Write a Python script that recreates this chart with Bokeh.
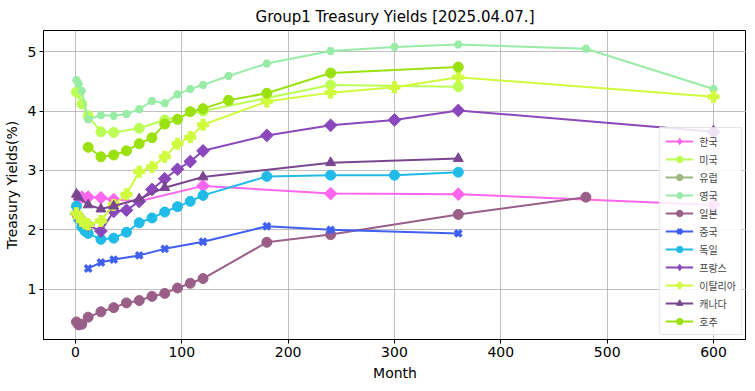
import numpy as np
from bokeh.plotting import figure
from bokeh.models import ColumnDataSource, Range1d, FixedTicker, Legend, LegendItem
from bokeh.embed import file_html
from bokeh.resources import INLINE

# ---- data (months to maturity, yields %) ----
names = ["한국", "미국", "유럽", "영국", "일본", "중국", "독일", "프랑스", "이탈리아", "캐나다", "호주"]

months_kr = [3, 6, 12, 24, 36, 60, 120, 240, 360, 600]
yld_kr = [2.55, 2.55, 2.55, 2.54, 2.51, 2.48, 2.74, 2.61, 2.60, 2.42]

months_us = [1, 3, 6, 12, 24, 36, 60, 84, 120, 240, 360]
yld_us = [4.32, 4.30, 4.12, 3.92, 3.65, 3.64, 3.71, 3.85, 4.00, 4.44, 4.41]

months_eu = []
yld_eu = []

months_uk = [1, 3, 6, 12, 24, 36, 48, 60, 72, 84, 96, 108, 120, 144, 180, 240, 300, 360, 480, 600]
yld_uk = [4.52, 4.46, 4.34, 3.86, 3.93, 3.92, 3.95, 4.03, 4.17, 4.13, 4.28, 4.37, 4.44, 4.59, 4.80, 5.01, 5.08, 5.12, 5.05, 4.37]

months_jp = [1, 3, 6, 12, 24, 36, 48, 60, 72, 84, 96, 108, 120, 180, 240, 360, 480]
yld_jp = [0.45, 0.40, 0.41, 0.53, 0.62, 0.69, 0.77, 0.81, 0.88, 0.93, 1.02, 1.10, 1.18, 1.79, 1.92, 2.26, 2.55]

months_cn = [12, 24, 36, 60, 84, 120, 180, 240, 360]
yld_cn = [1.35, 1.45, 1.50, 1.57, 1.68, 1.80, 2.06, 2.00, 1.94]

months_de = [1, 3, 6, 9, 12, 24, 36, 48, 60, 72, 84, 96, 108, 120, 180, 240, 300, 360]
yld_de = [2.40, 2.18, 2.05, 1.98, 1.94, 1.84, 1.86, 1.96, 2.12, 2.20, 2.30, 2.39, 2.48, 2.58, 2.90, 2.92, 2.92, 2.97]

months_fr = [1, 3, 6, 12, 24, 36, 48, 60, 72, 84, 96, 108, 120, 180, 240, 300, 360, 600]
yld_fr = [2.27, 2.22, 2.15, 2.08, 1.98, 2.31, 2.33, 2.48, 2.68, 2.86, 3.02, 3.15, 3.33, 3.59, 3.76, 3.85, 4.01, 3.65]

months_it = [1, 3, 6, 9, 12, 24, 36, 48, 60, 72, 84, 96, 108, 120, 180, 240, 300, 360, 600]
yld_it = [2.28, 2.22, 2.15, 2.11, 2.09, 2.15, 2.42, 2.60, 2.98, 3.06, 3.23, 3.45, 3.56, 3.77, 4.16, 4.31, 4.40, 4.57, 4.24]

months_ca = [1, 3, 12, 24, 36, 60, 84, 120, 240, 360]
yld_ca = [2.60, 2.55, 2.42, 2.35, 2.40, 2.52, 2.71, 2.89, 3.13, 3.20]

months_au = [12, 24, 36, 48, 60, 72, 84, 96, 108, 120, 144, 180, 240, 360]
yld_au = [3.39, 3.23, 3.26, 3.33, 3.45, 3.55, 3.78, 3.86, 3.99, 4.04, 4.18, 4.30, 4.64, 4.74]

x_ticks = [0, 100, 200, 300, 400, 500, 600]
y_ticks = [1, 2, 3, 4, 5]

series = [
    (months_kr, yld_kr), (months_us, yld_us), (months_eu, yld_eu), (months_uk, yld_uk),
    (months_jp, yld_jp), (months_cn, yld_cn), (months_de, yld_de), (months_fr, yld_fr),
    (months_it, yld_it), (months_ca, yld_ca), (months_au, yld_au),
]

# ---- styles ----
colors = ["#ff66ee", "#bbff55", "#9cba7f", "#98eca6", "#9a5f88", "#3f60f2",
          "#21bbe8", "#8a48bc", "#d0fa3c", "#7a4690", "#9be10f"]
markers = [("square", 9, np.pi / 4), ("circle", 10, 0), ("circle", 10, 0), ("hex", 8, 0),
           ("circle", 10, 0), ("x", 9, 0), ("circle", 10, 0), ("square", 9, np.pi / 4),
           ("plus", 11, 0), ("triangle", 10, 0), ("circle", 10, 0)]

FONT = "DejaVu Sans"

p = figure(width=746, height=383, output_backend="svg", toolbar_location=None,
           x_range=Range1d(-30, 631), y_range=Range1d(0.154, 5.356),
           title="Group1 Treasury Yields [2025.04.07.]",
           x_axis_label="Month", y_axis_label="Treasury Yields(%)",
           min_border_left=10, min_border_right=0, min_border_top=4, min_border_bottom=0)

p.title.align = "center"
p.title.text_font = FONT
p.title.text_font_size = "15px"
p.title.text_font_style = "normal"
p.title.text_color = "black"

for ax in (p.xaxis[0], p.yaxis[0]):
    ax.axis_label_text_font = FONT
    ax.axis_label_text_font_size = "14px"
    ax.axis_label_text_font_style = "normal"
    ax.axis_label_text_color = "black"
    ax.major_label_text_font = FONT
    ax.major_label_text_font_size = "14px"
    ax.major_label_text_color = "black"
    ax.minor_tick_line_color = None
    ax.major_tick_out = 4
    ax.major_tick_in = 0
    ax.major_label_standoff = 3
    ax.axis_label_standoff = 5
    ax.axis_line_color = "black"
    ax.major_tick_line_color = "black"

p.xaxis.ticker = FixedTicker(ticks=x_ticks)
p.yaxis.ticker = FixedTicker(ticks=y_ticks)

p.grid.grid_line_color = "#b0b0b0"
p.grid.grid_line_width = 0.8
p.outline_line_color = "black"
p.outline_line_width = 1

items = []
for name, (mx, my), col, (mk, sz, ang) in zip(names, series, colors, markers):
    if len(mx) == 0:
        src = ColumnDataSource(dict(x=[np.nan], y=[np.nan]))
    else:
        src = ColumnDataSource(dict(x=mx, y=my))
    ln = p.line("x", "y", source=src, line_color=col, line_width=2)
    if mk == "x":
        sc = p.scatter("x", "y", source=src, marker=mk, size=sz, line_color=col, line_width=3.5)
        leg_r = sc
    else:
        sc = p.scatter("x", "y", source=src, marker=mk, size=sz, angle=ang,
                       fill_color=col, line_color=col, line_width=1)
        leg_r = sc
        if ang != 0:
            # legend-only diamond glyph (no data points)
            leg_r = p.scatter(x=[np.nan], y=[np.nan], marker="diamond", size=14,
                              fill_color=col, line_color=col)
    items.append(LegendItem(label=name, renderers=[ln, leg_r]))

legend = Legend(items=items, location="bottom_right")
legend.label_text_font = "Noto Sans CJK KR"
legend.label_text_font_size = "10px"
legend.glyph_width = 28
legend.glyph_height = 16
legend.spacing = 2
legend.padding = 5
legend.margin = 4
legend.label_standoff = 6
legend.label_height = 16
legend.border_line_color = "#cccccc"
legend.background_fill_alpha = 0.85
p.add_layout(legend)

open("out.html", "w").write(file_html(p, INLINE))
